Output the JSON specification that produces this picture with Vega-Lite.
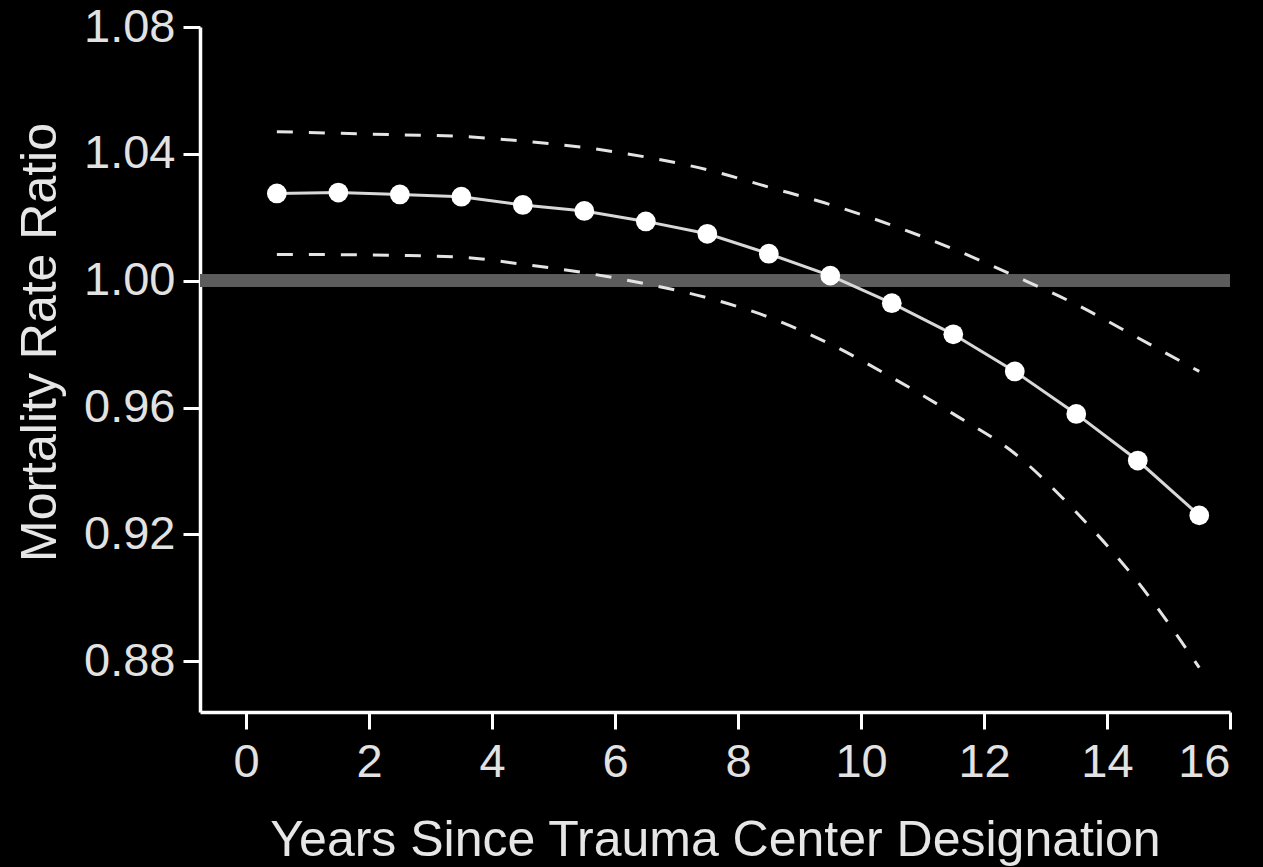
{
  "$schema": "https://vega.github.io/schema/vega-lite/v6.json",
  "width": 1030,
  "height": 685,
  "autosize": "none",
  "padding": {"left": 200, "top": 27, "right": 33, "bottom": 155},
  "background": "#000000",
  "config": {
    "view": {"stroke": null},
    "font": "Liberation Sans",
    "axis": {
      "domainColor": "#ffffff",
      "domainWidth": 3.5,
      "tickColor": "#ffffff",
      "tickWidth": 3,
      "tickSize": 17,
      "grid": false,
      "labelColor": "#e2e2e2",
      "labelFont": "Liberation Sans",
      "labelFontSize": 47,
      "titleColor": "#e6e6e6",
      "titleFont": "Liberation Sans",
      "titleFontSize": 50,
      "titleFontWeight": "normal"
    }
  },
  "data": {
    "values": [
      {"year": 0.5, "est": 1.0275, "lo": 1.0083, "hi": 1.047},
      {"year": 1.5, "est": 1.0278, "lo": 1.0082, "hi": 1.0465},
      {"year": 2.5, "est": 1.0272, "lo": 1.008, "hi": 1.046},
      {"year": 3.5, "est": 1.0265, "lo": 1.0074, "hi": 1.0455},
      {"year": 4.5, "est": 1.0239, "lo": 1.0052, "hi": 1.044},
      {"year": 5.5, "est": 1.022, "lo": 1.0025, "hi": 1.042},
      {"year": 6.5, "est": 1.0187, "lo": 0.999, "hi": 1.039},
      {"year": 7.5, "est": 1.0148, "lo": 0.9946, "hi": 1.035},
      {"year": 8.5, "est": 1.0085, "lo": 0.9885, "hi": 1.0295},
      {"year": 9.5, "est": 1.0016, "lo": 0.98, "hi": 1.024},
      {"year": 10.5, "est": 0.9929, "lo": 0.9695, "hi": 1.0175},
      {"year": 11.5, "est": 0.9831, "lo": 0.958, "hi": 1.01},
      {"year": 12.5, "est": 0.9714, "lo": 0.9455, "hi": 1.0015},
      {"year": 13.5, "est": 0.958, "lo": 0.927, "hi": 0.9925},
      {"year": 14.5, "est": 0.9433, "lo": 0.905, "hi": 0.982},
      {"year": 15.5, "est": 0.926, "lo": 0.878, "hi": 0.9714}
    ]
  },
  "encoding": {
    "x": {
      "field": "year",
      "type": "quantitative",
      "scale": {"domain": [-0.75, 16], "nice": false, "zero": false},
      "axis": {
        "values": [0, 2, 4, 6, 8, 10, 12, 14, 16],
        "format": "d",
        "labelPadding": 10,
        "title": "Years Since Trauma Center Designation",
        "titleBaseline": "alphabetic",
        "titleY": 143
      }
    }
  },
  "layer": [
    {
      "mark": {"type": "rule", "color": "#5c5c5c", "strokeWidth": 12},
      "encoding": {
        "x": {"datum": -0.75},
        "x2": {"datum": 16},
        "y": {"datum": 1.0, "type": "quantitative", "scale": {"domain": [0.864, 1.08], "nice": false, "zero": false}, "axis": {
          "values": [0.88, 0.92, 0.96, 1.0, 1.04, 1.08],
          "format": ".2f",
          "labelPadding": 8,
          "title": "Mortality Rate Ratio",
          "titleBaseline": "alphabetic",
          "titleX": -145,
          "titleY": 315
        }}
      }
    },
    {
      "mark": {"type": "line", "color": "#e4e4e4", "strokeWidth": 3, "strokeDash": [16, 16], "interpolate": "monotone"},
      "encoding": {
        "y": {"field": "hi", "type": "quantitative", "title": "Mortality Rate Ratio"}
      }
    },
    {
      "mark": {"type": "line", "color": "#e4e4e4", "strokeWidth": 3, "strokeDash": [16, 16], "interpolate": "monotone"},
      "encoding": {
        "y": {"field": "lo", "type": "quantitative", "title": "Mortality Rate Ratio"}
      }
    },
    {
      "mark": {"type": "line", "color": "#d8d8d8", "strokeWidth": 3},
      "encoding": {
        "y": {"field": "est", "type": "quantitative", "title": "Mortality Rate Ratio"}
      }
    },
    {
      "mark": {"type": "point", "filled": true, "color": "#ffffff", "opacity": 1, "size": 390, "shape": "circle"},
      "encoding": {
        "y": {"field": "est", "type": "quantitative", "title": "Mortality Rate Ratio"}
      }
    }
  ]
}
